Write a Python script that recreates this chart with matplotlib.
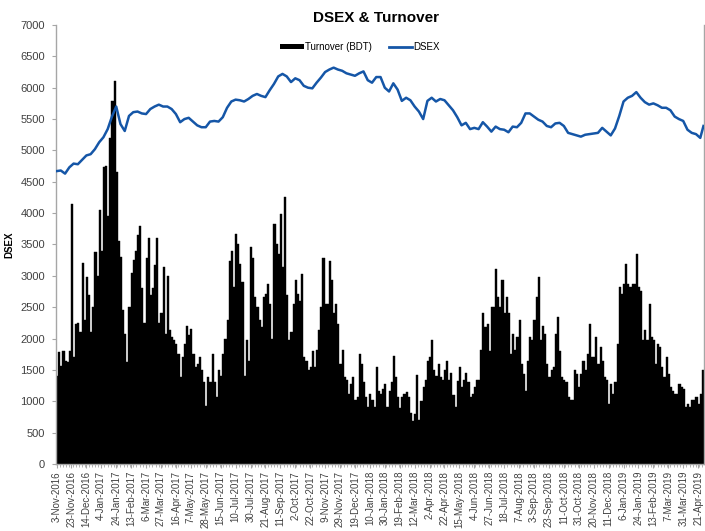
import matplotlib

matplotlib.use("Agg")

import matplotlib.pyplot as plt
import numpy as np
from matplotlib.lines import Line2D
from matplotlib.patches import Patch
from matplotlib.ticker import MultipleLocator

plt.rcParams["font.family"] = ["Liberation Sans", "DejaVu Sans"]

N_DAYS = 608          # trading days on the category axis
TURNOVER_STEP = 2     # one turnover value per 2 trading days
DSEX_STEP = 4         # one DSEX reading per 4 trading days
LABEL_STEP = 14       # a date label every 14 trading days

TICK_LABELS = [
    "3-Nov-2016", "23-Nov-2016", "14-Dec-2016", "4-Jan-2017", "24-Jan-2017",
    "13-Feb-2017", "6-Mar-2017", "27-Mar-2017", "16-Apr-2017", "7-May-2017",
    "28-May-2017", "15-Jun-2017", "10-Jul-2017", "30-Jul-2017", "21-Aug-2017",
    "11-Sep-2017", "2-Oct-2017", "22-Oct-2017", "9-Nov-2017", "29-Nov-2017",
    "19-Dec-2017", "10-Jan-2018", "30-Jan-2018", "19-Feb-2018", "12-Mar-2018",
    "2-Apr-2018", "22-Apr-2018", "15-May-2018", "4-Jun-2018", "27-Jun-2018",
    "18-Jul-2018", "7-Aug-2018", "3-Sep-2018", "23-Sep-2018", "11-Oct-2018",
    "31-Oct-2018", "20-Nov-2018", "11-Dec-2018", "6-Jan-2019", "24-Jan-2019",
    "13-Feb-2019", "7-Mar-2019", "31-Mar-2019", "21-Apr-2019",
]

TURNOVER = [
    1400, 1780, 1560, 1800, 1650, 1620, 1800, 4140, 1700, 2240,
    2250, 2100, 3200, 2300, 2980, 2700, 2100, 2500, 3380, 3000,
    4050, 3400, 4730, 4750, 3950, 5200, 5790, 6100, 4650, 3550,
    3300, 2450, 2080, 1620, 2500, 3050, 3250, 3400, 3650, 3800,
    2800, 2250, 3290, 3600, 2700, 2800, 3180, 3610, 2250, 2400,
    3140,
    2080, 3000, 2130, 2030, 1970, 1920, 1760, 1390, 1700, 1920,
    2200, 2050, 2150, 1760, 1550, 1600, 1710, 1500, 1300, 920,
    1390, 1300, 1760, 1300, 1070, 1500, 1400, 1760, 2000, 2300,
    3240, 3400, 2820, 3670, 3510, 3190, 2900, 1400, 1970, 1650,
    3460, 3290, 2660, 2500, 2290, 2180, 2660, 2710, 2870, 2550,
    2000, 3830, 3510, 3350, 3990, 3140, 4250, 2700, 1970, 2100,
    2550, 2930, 2710, 2600, 3030, 1700, 1650, 1500, 1550, 1800,
    1550, 1810, 2130, 2500, 3290, 2550, 2550, 3240, 2930, 2400,
    2550, 2230, 1600, 1810, 1390, 1340, 1120, 1280, 1390, 1020,
    1070, 1760, 1600, 1300, 1070, 910, 1120, 1020, 910, 1550,
    1170,
    1120, 1200, 1280, 910, 1170, 1300, 1730, 1390, 1070, 900,
    1070, 1120, 1150, 1070, 810, 690, 800, 1420, 700, 1000,
    1230, 1340, 1650, 1700, 1970, 1500, 1400, 1600, 1390, 1340,
    1500, 1650, 1340, 1450, 1100, 910, 1320, 1550, 1230, 1340,
    1450, 1300, 1070, 1120, 1230, 1340, 1340, 1810, 2400, 2180,
    2230, 1800, 2500, 2500, 3110, 2660, 2500, 2930, 2400, 2660,
    2400, 1760, 2080, 1810, 2030, 2290, 1600, 1440, 1170, 1650,
    2030, 1970, 2290, 2660, 2980, 1970, 2200, 2080, 1600, 1390,
    1500, 1550, 2080, 2340, 1800, 1390, 1340, 1300, 1070, 1020,
    1020, 1500, 1440, 1230, 1440, 1650, 1500, 1760, 2230, 1700,
    1700,
    2030, 1600, 1870, 1650, 1390, 1340, 950, 1280, 1120, 1300,
    1920, 2820, 2710, 2870, 3190, 2870, 2820, 2870, 2870, 3350,
    2820, 2760, 1970, 2130, 1970, 2550, 2030, 1970, 1600, 1920,
    1870, 1550, 1390, 1700, 1440, 1230, 1170, 1120, 1120, 1280,
    1230, 1200, 910, 960, 910, 1020, 1020, 1070, 960, 1120,
    1500,
]

DSEX = [
    4670, 4680, 4630, 4730, 4790, 4780, 4850, 4920, 4940, 5020,
    5130, 5210, 5340, 5540, 5700, 5420, 5310, 5550, 5610, 5620,
    5590, 5580, 5660, 5700, 5730, 5700,
    5700, 5660, 5580, 5450, 5500, 5520, 5460, 5400, 5370, 5370,
    5460, 5470, 5460, 5530, 5680, 5780, 5810, 5800, 5780, 5820,
    5870, 5900, 5870, 5850, 5960,
    6060, 6180, 6220, 6180, 6090, 6150, 6120, 6030, 6000, 5990,
    6080, 6160, 6250, 6290, 6320, 6290, 6270, 6230, 6210, 6190,
    6230, 6260, 6120, 6080, 6170,
    6170, 6000, 5940, 6070, 5970, 5790, 5840, 5800, 5700, 5620,
    5500, 5790, 5840, 5780, 5820, 5800, 5720, 5640, 5530, 5400,
    5440, 5340, 5360, 5340, 5450, 5380,
    5300, 5380, 5340, 5330, 5290, 5380, 5370, 5440, 5590, 5590,
    5540, 5490, 5460, 5390, 5370, 5430, 5440, 5390, 5280, 5260,
    5240, 5220, 5250, 5260, 5270,
    5280, 5360, 5300, 5240, 5350, 5550, 5780, 5840, 5870, 5930,
    5840, 5770, 5730, 5750, 5720, 5680, 5680, 5640, 5540, 5500,
    5470, 5330, 5280, 5260, 5200, 5390,
]

BLUE = "#1556A7"
AXIS_GRAY = "#A6A6A6"
TEXT_GRAY = "#404040"


def main():
    turnover_x = np.arange(len(TURNOVER)) * TURNOVER_STEP + (TURNOVER_STEP - 1) / 2
    dsex_x = np.append(np.arange(0, N_DAYS, DSEX_STEP), N_DAYS - 1)[: len(DSEX)]

    fig = plt.figure(figsize=(7.05, 5.31), dpi=100)
    ax = fig.add_axes([56 / 705, 1 - 464 / 531, 648 / 705, 439 / 531])

    ax.bar(turnover_x, TURNOVER, width=TURNOVER_STEP, color="black",
           edgecolor="black", linewidth=0.3, zorder=2)
    ax.plot(dsex_x, DSEX, color=BLUE, linewidth=1.8, zorder=3,
            solid_joinstyle="round")

    ax.set_xlim(-0.5, N_DAYS - 0.5)
    ax.set_ylim(0, 7000)
    ax.yaxis.set_major_locator(MultipleLocator(500))

    ax.set_xticks(np.arange(len(TICK_LABELS)) * LABEL_STEP)
    ax.set_xticklabels(TICK_LABELS, rotation=90)
    ax.xaxis.set_minor_locator(MultipleLocator(3))

    ax.tick_params(axis="both", colors=TEXT_GRAY, width=0.8)
    ax.tick_params(axis="x", which="major", length=3, color=AXIS_GRAY, pad=2,
                   labelsize=7)
    ax.tick_params(axis="x", which="minor", length=2, color=AXIS_GRAY, width=0.6)
    ax.tick_params(axis="y", length=3, color=AXIS_GRAY, pad=5, labelsize=8)

    for side in ("left", "right", "bottom"):
        ax.spines[side].set_color(AXIS_GRAY)
        ax.spines[side].set_linewidth(1.0)
    ax.spines["top"].set_visible(False)

    ax.set_ylabel("DSEX", fontsize=7, fontweight="bold", color="black")
    ax.yaxis.set_label_coords((14 - 56) / 648, 0.5)

    fig.text(376 / 705, 1 - 18 / 531, "DSEX & Turnover", ha="center", va="center",
             fontsize=11, fontweight="bold")

    handles = [
        Patch(facecolor="black", edgecolor="none"),
        Line2D([0], [0], color=BLUE, linewidth=2),
    ]
    fig.legend(handles, ["Turnover (BDT)", "DSEX"], loc="center",
               bbox_to_anchor=(360 / 705, 1 - 47 / 531), ncol=2, frameon=False,
               fontsize=7, handlelength=2.4, handleheight=0.5,
               handletextpad=0.1, columnspacing=1.8)

    fig.savefig("out.png", dpi=100)
    plt.close(fig)


if __name__ == "__main__":
    main()
